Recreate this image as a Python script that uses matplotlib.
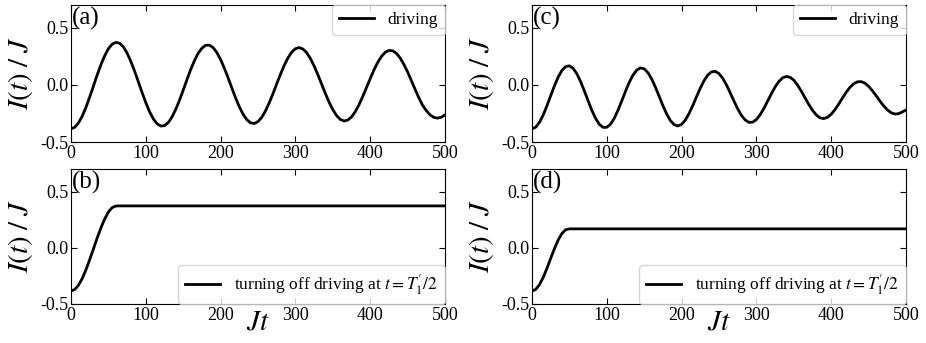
import matplotlib.pyplot as plt
import numpy as np

plt.rcParams['font.family'] = 'Liberation Serif'
plt.rcParams['mathtext.fontset'] = 'stix'
plt.rcParams['axes.unicode_minus'] = False

# time grid (Jt) for the driven curves
t_drive = np.arange(0, 505, 5)

# (a) current with driving, period ~122
I_a = [-0.385, -0.371, -0.333, -0.274, -0.196, -0.106, -0.010, 0.087, 0.177, 0.255,
       0.317, 0.357, 0.373, 0.365, 0.333, 0.279, 0.206, 0.121, 0.028, -0.066,
       -0.155, -0.234, -0.297, -0.340, -0.360, -0.357, -0.330, -0.281, -0.215, -0.135,
       -0.046, 0.046, 0.134, 0.212, 0.277, 0.322, 0.347, 0.348, 0.327, 0.284,
       0.222, 0.147, 0.062, -0.026, -0.113, -0.191, -0.256, -0.304, -0.332, -0.338,
       -0.321, -0.284, -0.228, -0.157, -0.077, 0.009, 0.093, 0.170, 0.236, 0.286,
       0.317, 0.327, 0.315, 0.283, 0.232, 0.166, 0.090, 0.008, -0.074, -0.150,
       -0.216, -0.268, -0.302, -0.316, -0.308, -0.281, -0.235, -0.174, -0.102, -0.024,
       0.055, 0.131, 0.197, 0.249, 0.285, 0.302, 0.299, 0.277, 0.236, 0.180,
       0.113, 0.038, -0.038, -0.112, -0.178, -0.225, -0.262, -0.284, -0.291, -0.283,
       -0.262]

# (c) current with driving, period ~97.5
I_c = [-0.385, -0.370, -0.328, -0.263, -0.183, -0.094, -0.008, 0.069, 0.127, 0.160,
       0.167, 0.145, 0.097, 0.029, -0.053, -0.139, -0.223, -0.293, -0.345, -0.372,
       -0.371, -0.344, -0.292, -0.221, -0.140, -0.056, 0.022, 0.086, 0.130, 0.149,
       0.141, 0.107, 0.052, -0.020, -0.100, -0.181, -0.254, -0.312, -0.348, -0.360,
       -0.345, -0.308, -0.250, -0.180, -0.103, -0.028, 0.037, 0.087, 0.114, 0.119,
       0.099, 0.058, 0.000, -0.069, -0.141, -0.209, -0.267, -0.307, -0.328, -0.326,
       -0.303, -0.261, -0.206, -0.142, -0.077, -0.018, 0.030, 0.062, 0.074, 0.067,
       0.042, -0.001, -0.054, -0.113, -0.171, -0.222, -0.263, -0.288, -0.295, -0.284,
       -0.257, -0.217, -0.168, -0.115, -0.065, -0.022, 0.010, 0.027, 0.029, 0.016,
       -0.012, -0.050, -0.094, -0.140, -0.183, -0.218, -0.243, -0.255, -0.252, -0.237,
       -0.220]

# (b) driving switched off at T1'/2
t_b = [0, 5, 10, 15, 20, 25, 30, 35, 40, 45, 50, 55, 60, 63, 500]
I_b = [-0.385, -0.371, -0.333, -0.274, -0.196, -0.106, -0.010, 0.087, 0.177, 0.255,
       0.317, 0.357, 0.371, 0.372, 0.372]

# (d) driving switched off at T1'/2
t_d = [0, 5, 10, 15, 20, 25, 30, 35, 40, 45, 50, 500]
I_d = [-0.385, -0.370, -0.328, -0.263, -0.183, -0.094, -0.008, 0.069, 0.127, 0.160,
       0.168, 0.168]

xticks = [0, 100, 200, 300, 400, 500]
yticks = [-0.5, 0.0, 0.5]
ytick_labels = ['-0.5', '0.0', '0.5']

fig = plt.figure(figsize=(9.26, 3.43), dpi=100)
w, h = 374 / 926, 137 / 343
ax_a = fig.add_axes([71 / 926, 1 - 142 / 343, w, h])
ax_c = fig.add_axes([532 / 926, 1 - 142 / 343, w, h])
ax_b = fig.add_axes([71 / 926, 1 - 304 / 343, w, 135 / 343])
ax_d = fig.add_axes([532 / 926, 1 - 304 / 343, w, 135 / 343])


def style(ax, tag):
    ax.set_xlim(0, 500)
    ax.set_ylim(-0.5, 0.7)
    ax.set_xticks(xticks)
    ax.set_yticks(yticks)
    ax.set_yticklabels(ytick_labels)
    ax.tick_params(direction='in', top=True, right=True, labelsize=13,
                   length=4, pad=2)
    ax.text(0.003, 0.985, tag, transform=ax.transAxes, va='top', ha='left',
            fontsize=18)
    ax.set_ylabel(r'$I(t)\;/\;J$', fontsize=21, labelpad=4)


ax_a.plot(t_drive, I_a, color='black', lw=2, label='driving')
ax_c.plot(t_drive, I_c, color='black', lw=2, label='driving')
ax_b.plot(t_b, I_b, color='black', lw=2,
          label=r"turning off driving at $t=T_1^{\prime}/2$")
ax_d.plot(t_d, I_d, color='black', lw=2,
          label=r"turning off driving at $t=T_1^{\prime}/2$")

for ax, tag in [(ax_a, '(a)'), (ax_b, '(b)'), (ax_c, '(c)'), (ax_d, '(d)')]:
    style(ax, tag)

for ax in [ax_a, ax_c]:
    ax.legend(loc='upper right', fontsize=12.5, borderaxespad=0.0,
              handlelength=2.0)
for ax in [ax_b, ax_d]:
    ax.legend(loc='lower right', fontsize=12.5, borderaxespad=0.0,
              handlelength=2.0)
    ax.set_xlabel(r'$Jt$', fontsize=21, labelpad=-10)

fig.savefig('out.png', dpi=100)
